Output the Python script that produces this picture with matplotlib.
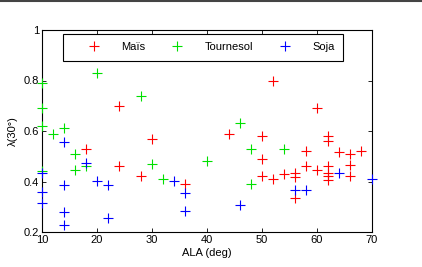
import matplotlib
matplotlib.use("Agg")
import matplotlib.pyplot as plt
from matplotlib.lines import Line2D

plt.rcParams['font.family'] = ['Liberation Sans', 'DejaVu Sans']

# Maïs (red)
mais_x = [18, 24, 24, 28, 30, 36, 44, 50, 50, 50, 52, 52, 54, 56, 56, 56, 58, 58,
          60, 60, 62, 62, 62, 62, 62, 62, 64, 66, 66, 66, 68]
mais_y = [0.53, 0.70, 0.46, 0.42, 0.57, 0.39, 0.59, 0.58, 0.49, 0.42, 0.80, 0.41,
          0.43, 0.435, 0.417, 0.336, 0.52, 0.46, 0.69, 0.446, 0.58, 0.56, 0.46,
          0.435, 0.42, 0.405, 0.515, 0.51, 0.465, 0.42, 0.52]

# Tournesol (green)
tourn_x = [10, 10, 10, 10, 12, 14, 16, 16, 18, 20, 28, 30, 32, 40, 46, 48, 48, 54]
tourn_y = [0.79, 0.69, 0.62, 0.44, 0.59, 0.61, 0.51, 0.445, 0.46, 0.83, 0.74,
           0.47, 0.41, 0.48, 0.63, 0.53, 0.39, 0.53]

# Soja (blue)
soja_x = [10, 10, 10, 14, 14, 14, 14, 18, 20, 22, 22, 34, 36, 36, 46, 56, 58, 64, 70]
soja_y = [0.435, 0.36, 0.316, 0.555, 0.385, 0.28, 0.228, 0.472, 0.403, 0.386,
          0.255, 0.403, 0.356, 0.284, 0.307, 0.366, 0.366, 0.435, 0.41]

x_ticks = [10, 20, 30, 40, 50, 60, 70]
y_ticks = [0.2, 0.4, 0.6, 0.8, 1.0]
y_tick_labels = ["0.2", "0.4", "0.6", "0.8", "1"]

series = [
    (mais_x, mais_y, "#ff0000", "Maïs"),
    (tourn_x, tourn_y, "#00e000", "Tournesol"),
    (soja_x, soja_y, "#0000ff", "Soja"),
]

fig = plt.figure(figsize=(4.22, 2.67), dpi=100)
ax = fig.add_axes([42 / 422, 1 - 232 / 267, 330 / 422, 202 / 267])

for xs, ys, col, name in series:
    ax.plot(xs, ys, linestyle="none", marker="+", color=col, markersize=6.5,
            markeredgewidth=0.8, label=name, clip_on=False, zorder=3)

ax.set_xlim(10, 70)
ax.set_ylim(0.2, 1.0)
ax.set_xticks(x_ticks)
ax.set_yticks(y_ticks)
ax.set_yticklabels(y_tick_labels)
ax.tick_params(direction="in", top=True, right=True, length=3, width=0.6,
               labelsize=8, pad=2)
for sp in ax.spines.values():
    sp.set_linewidth(0.8)

ax.set_xlabel("ALA (deg)", fontsize=8, labelpad=2)
ax.set_ylabel("λ(30°)", fontsize=8, labelpad=4)

leg = ax.legend(loc="upper left", bbox_to_anchor=(0.0636, 0.980), ncol=3,
                fontsize=8, frameon=True, fancybox=False, framealpha=1,
                edgecolor="black", borderaxespad=0, handlelength=4.0,
                handletextpad=0.45, columnspacing=0.9, borderpad=0.75)
leg.get_frame().set_linewidth(0.8)
leg.set_zorder(5)

# thin dark rule along the top edge of the picture
fig.add_artist(Line2D([0, 1], [0.997, 0.997], transform=fig.transFigure,
                      color="#444444", linewidth=1.5))

fig.savefig("out.png", dpi=100)
